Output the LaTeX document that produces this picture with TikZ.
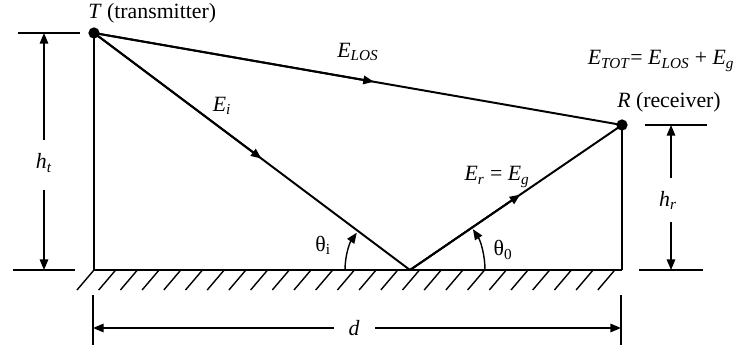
\documentclass[tikz,border=0pt]{standalone}
\usepackage{fontspec}
\setmainfont{Liberation Serif}
\usetikzlibrary{arrows.meta,calc}

\begin{document}
\begin{tikzpicture}[x=0.025cm,y=0.025cm,
  ray/.style={line width=1.4pt},
  tip/.style={-{Triangle[length=7.5pt,width=6pt]}},
  dimline/.style={line width=1pt},
  lbl/.style={font=\fontsize{15.5}{18}\selectfont,inner sep=0pt}]
\useasboundingbox (0,0) rectangle (742,349);
% antennas and ground points
\coordinate (T) at (94,316);
\coordinate (R) at (622,224);
\coordinate (G) at (410,79);
\coordinate (Tb) at (94,79);
\coordinate (Rb) at (622,79);

% ground with hatching
\draw[ray] (Tb) -- (Rb);
\foreach \i in {0,...,24}
  \draw[dimline] ({77+21.7*\i},59) -- ++(17,20);

% masts
\draw[ray] (T) -- (Tb);
\draw[ray] (R) -- (Rb);

% direct and ground-reflected rays
\draw[ray] (T) -- (R);
\draw[ray,tip] (T) -- ($(T)!0.53!(R)$);
\draw[ray] (T) -- (G);
\draw[ray,tip] (T) -- ($(T)!0.53!(G)$);
\draw[ray] (G) -- (R);
\draw[ray,tip] (G) -- ($(G)!0.52!(R)$);
\fill (T) circle (4pt);
\fill (R) circle (4pt);

\node[lbl,anchor=west] (Tlbl) at (88,336) {\textit{T} (transmitter)};
\node[lbl,anchor=west] (Rlbl) at (617,247) {\textit{R} (receiver)};
\node[lbl] (Etot) at (661,288) {\textit{E}\textsubscript{\textit{TOT}}= \textit{E}\textsubscript{\textit{LOS}} + \textit{E}\textsubscript{\textit{g}}};
\node[lbl] (Elos) at (358,297) {\textit{E}\textsubscript{\textit{LOS}}};
\node[lbl] (Ei) at (222,243) {\textit{E}\textsubscript{\textit{i}}};
\node[lbl] (Er) at (497,172) {\textit{E}\textsubscript{\textit{r}} = \textit{E}\textsubscript{\textit{g}}};

% angles at the reflection point
\draw[dimline,tip] ($(G)+(-65,0)$) arc[start angle=180,end angle=145,radius=65];
\draw[dimline,tip] ($(G)+(75,0)$) arc[start angle=0,end angle=33,radius=75];
\node[lbl] (thi) at (323,104) {θ\textsubscript{i}};
\node[lbl] (tho) at (503,99) {θ\textsubscript{0}};

% height h_t
\node[lbl] (ht) at (44,186) {\textit{h}\textsubscript{\textit{t}}};
\coordinate (httop) at (44,316);
\coordinate (htbot) at (44,79);
\draw[dimline] ($(httop)+(-26,0)$) -- ++(62,0);
\draw[dimline] ($(htbot)+(-31,0)$) -- ++(62,0);
\draw[dimline,tip] ($(ht)+(0,23)$) -- (httop);
\draw[dimline,tip] ($(ht)+(0,-27)$) -- (htbot);

% height h_r
\node[lbl] (hr) at (668,149) {\textit{h}\textsubscript{\textit{r}}};
\coordinate (hrtop) at (671,224);
\coordinate (hrbot) at (671,79);
\draw[dimline] ($(hrtop)+(-26,0)$) -- ++(62,0);
\draw[dimline] ($(hrbot)+(-32,0)$) -- ++(64,0);
\draw[dimline,tip] ($(hrtop)+(0,-53)$) -- (hrtop);
\draw[dimline,tip] ($(hrbot)+(0,48)$) -- (hrbot);

% distance d
\node[lbl] (d) at (354,21) {\textit{d}};
\coordinate (dl) at (93,21);
\coordinate (dr) at (621,21);
\draw[dimline] ($(dl)+(0,33)$) -- ++(0,-50);
\draw[dimline] ($(dr)+(0,33)$) -- ++(0,-50);
\draw[dimline,tip] ($(d)+(-20,0)$) -- (dl);
\draw[dimline,tip] ($(d)+(21,0)$) -- (dr);
\end{tikzpicture}
\end{document}
